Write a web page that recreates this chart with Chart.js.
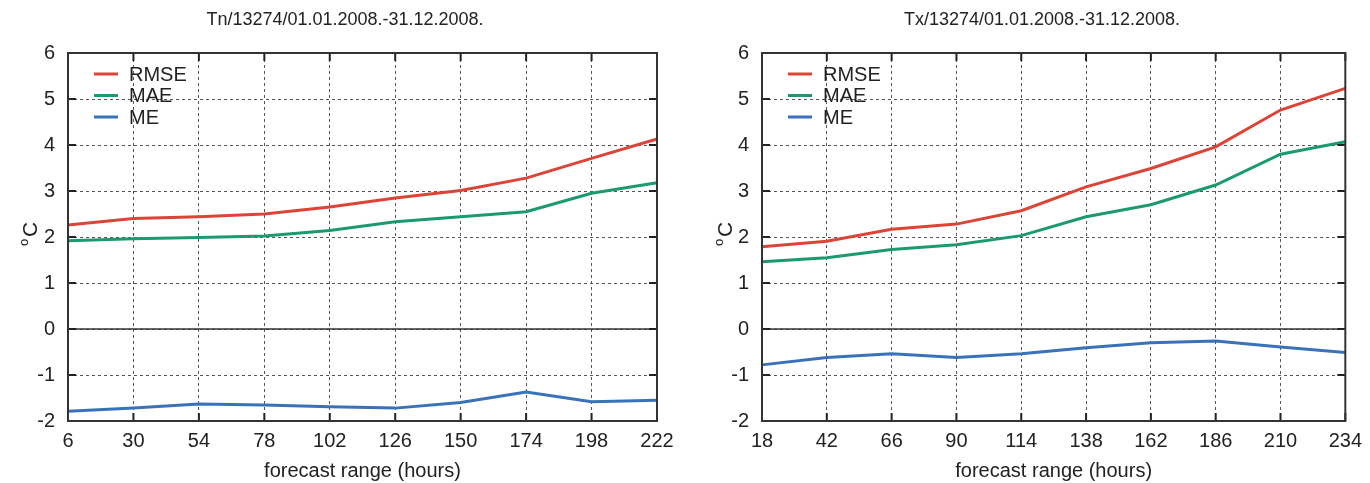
<!DOCTYPE html>
<html>
<head>
<meta charset="utf-8">
<script src="https://cdn.jsdelivr.net/npm/chart.js@4.4.1/dist/chart.umd.min.js"></script>
<style>
  body { margin: 0; background: #fff; }
  .wrap { display: flex; width: 1370px; height: 483px; }
  .box { position: relative; width: 685px; height: 483px; }
</style>
</head>
<body>
<div class="wrap">
  <div class="box"><canvas id="tnChart"></canvas></div>
  <div class="box"><canvas id="txChart"></canvas></div>
</div>
<script>
// Tn (minimum temperature) scores
const tnHours = ['6', '30', '54', '78', '102', '126', '150', '174', '198', '222'];
const tnRmse = [2.26, 2.4, 2.44, 2.5, 2.65, 2.85, 3.01, 3.28, 3.71, 4.13];
const tnMae = [1.92, 1.96, 1.99, 2.02, 2.14, 2.33, 2.44, 2.55, 2.95, 3.18];
const tnMe = [-1.79, -1.72, -1.63, -1.65, -1.69, -1.72, -1.6, -1.37, -1.58, -1.55];

// Tx (maximum temperature) scores
const txHours = ['18', '42', '66', '90', '114', '138', '162', '186', '210', '234'];
const txRmse = [1.79, 1.91, 2.17, 2.28, 2.57, 3.09, 3.49, 3.96, 4.76, 5.23];
const txMae = [1.46, 1.55, 1.73, 1.83, 2.03, 2.44, 2.7, 3.13, 3.8, 4.07];
const txMe = [-0.78, -0.62, -0.54, -0.62, -0.54, -0.41, -0.3, -0.26, -0.39, -0.51];

const yTicks = [-2, -1, 0, 1, 2, 3, 4, 5, 6];

const FONT = '"Liberation Sans", Arial, sans-serif';
const RED = '#dc4437';
const GREEN = '#1c9a6f';
const BLUE = '#3a72b9';

// gnuplot-ish frame: box, inward ticks, zero axis, legend, titles
const framePlugin = {
    id: 'frame',
    afterDatasetsDraw(chart, args, opts) {
        const { ctx, chartArea: a, scales } = chart;
        const xs = scales.x, ys = scales.y;
        ctx.save();

        // zero axis
        const y0 = ys.getPixelForValue(0);
        ctx.strokeStyle = '#333';
        ctx.lineWidth = 1.5;
        ctx.beginPath();
        ctx.moveTo(a.left, y0);
        ctx.lineTo(a.right, y0);
        ctx.stroke();

        // inward tick marks
        ctx.strokeStyle = '#222';
        ctx.lineWidth = 2;
        const tl = 8;
        ctx.beginPath();
        ys.ticks.forEach(t => {
            const y = ys.getPixelForValue(t.value);
            ctx.moveTo(a.left, y); ctx.lineTo(a.left + tl, y);
            ctx.moveTo(a.right, y); ctx.lineTo(a.right - tl, y);
        });
        xs.ticks.forEach((t, i) => {
            const x = xs.getPixelForTick(i);
            ctx.moveTo(x, a.bottom); ctx.lineTo(x, a.bottom - tl);
            ctx.moveTo(x, a.top); ctx.lineTo(x, a.top + tl);
        });
        ctx.stroke();

        // box
        ctx.strokeStyle = '#333';
        ctx.lineWidth = 2;
        ctx.strokeRect(a.left, a.top, a.right - a.left, a.bottom - a.top);

        // legend
        ctx.font = '20px ' + FONT;
        ctx.textBaseline = 'middle';
        ctx.textAlign = 'left';
        chart.data.datasets.forEach((ds, i) => {
            const y = a.top + 21 + i * 21.5;
            ctx.strokeStyle = ds.borderColor;
            ctx.lineWidth = 3;
            ctx.beginPath();
            ctx.moveTo(a.left + 26, y);
            ctx.lineTo(a.left + 50, y);
            ctx.stroke();
            ctx.fillStyle = '#222';
            ctx.fillText(ds.label, a.left + 61, y + 1);
        });

        // chart title
        ctx.font = '18px ' + FONT;
        ctx.textAlign = 'center';
        ctx.fillStyle = '#222';
        ctx.fillText(opts.title, opts.titleX, 20);

        // y axis title, rotated
        ctx.save();
        ctx.translate(opts.yTitleX, (a.top + a.bottom) / 2 + 2);
        ctx.rotate(-Math.PI / 2);
        ctx.font = '21px ' + FONT;
        ctx.textAlign = 'left';
        ctx.fillText('C', 2, 0);
        ctx.font = '13px ' + FONT;
        ctx.fillText('o', -7, -7);
        ctx.restore();

        ctx.restore();
    }
};

function makeChart(id, hours, rmse, mae, me, cfg) {
    const ctx = document.getElementById(id).getContext('2d');
    return new Chart(ctx, {
        type: 'line',
        data: {
            labels: hours,
            datasets: [
                { label: 'RMSE', data: rmse, borderColor: RED },
                { label: 'MAE', data: mae, borderColor: GREEN },
                { label: 'ME', data: me, borderColor: BLUE }
            ]
        },
        options: {
            responsive: true,
            maintainAspectRatio: false,
            animation: false,
            layout: { padding: { top: 53, right: cfg.right, left: 0, bottom: 0 } },
            elements: {
                line: { borderWidth: 3, tension: 0 },
                point: { radius: 0 }
            },
            scales: {
                x: {
                    type: 'category',
                    offset: false,
                    grid: { color: '#555', lineWidth: 1, drawTicks: false },
                    border: { display: false, dash: [3, 3] },
                    ticks: { color: '#222', font: { family: FONT, size: 20 }, padding: 8, maxRotation: 0, autoSkip: false },
                    title: {
                        display: true, text: 'forecast range (hours)', color: '#222',
                        font: { family: FONT, size: 20 }, padding: { top: 4, bottom: 0 }
                    },
                    afterFit: s => { s.height = 62; }
                },
                y: {
                    min: -2, max: 6,
                    afterBuildTicks: s => { s.ticks = yTicks.map(v => ({ value: v })); },
                    grid: { color: '#555', lineWidth: 1, drawTicks: false },
                    border: { display: false, dash: [3, 3] },
                    ticks: { color: '#222', font: { family: FONT, size: 20 }, padding: 13 },
                    afterFit: s => { s.width = cfg.left; }
                }
            },
            plugins: {
                legend: { display: false },
                tooltip: { enabled: false },
                frame: { title: cfg.title, titleX: cfg.titleX, yTitleX: cfg.yTitleX }
            }
        },
        plugins: [framePlugin]
    });
}

makeChart('tnChart', tnHours, tnRmse, tnMae, tnMe,
    { left: 68, right: 28, title: 'Tn/13274/01.01.2008.-31.12.2008.', titleX: 345, yTitleX: 31 });
makeChart('txChart', txHours, txRmse, txMae, txMe,
    { left: 77, right: 20, title: 'Tx/13274/01.01.2008.-31.12.2008.', titleX: 357, yTitleX: 41 });
</script>
</body>
</html>
